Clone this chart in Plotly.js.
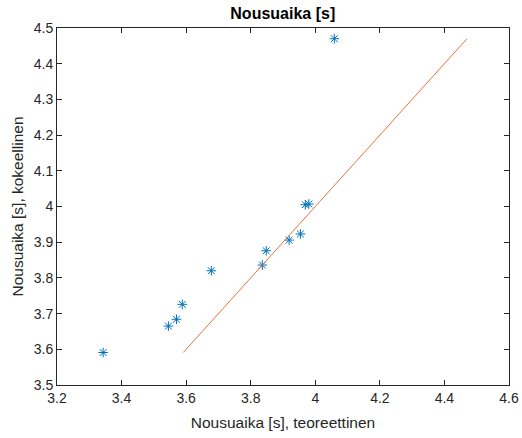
<!DOCTYPE html>
<html>
<head>
<meta charset="utf-8">
<script src="https://cdn.plot.ly/plotly-3.0.1.min.js"></script>
<style>html,body{margin:0;padding:0;background:#fff;}#chart{width:522px;height:438px;}</style>
</head>
<body>
<div id="chart"></div>
<script>
// Data
const teoreettinen = [3.343, 3.545, 3.570, 3.588, 3.678, 3.836, 3.848, 3.919, 3.954, 3.969, 3.980, 4.059];
const kokeellinen  = [3.591, 3.665, 3.684, 3.726, 3.820, 3.836, 3.876, 3.906, 3.923, 4.005, 4.007, 4.470];
const refLine = [3.591, 4.470]; // y = x reference line endpoints
const xTicks = [3.2, 3.4, 3.6, 3.8, 4.0, 4.2, 4.4, 4.6];
const xTickText = ['3.2', '3.4', '3.6', '3.8', '4', '4.2', '4.4', '4.6'];
const yTicks = [3.5, 3.6, 3.7, 3.8, 3.9, 4.0, 4.1, 4.2, 4.3, 4.4, 4.5];
const yTickText = ['3.5', '3.6', '3.7', '3.8', '3.9', '4', '4.1', '4.2', '4.3', '4.4', '4.5'];

const font = 'Liberation Sans, Arial, Helvetica, sans-serif';
const axisCol = '#262626';

const traces = [
  {
    x: teoreettinen, y: kokeellinen, type: 'scatter', mode: 'markers',
    marker: {symbol: 'asterisk-open', size: 8, color: '#0072BD', line: {color: '#0072BD', width: 1}},
    hoverinfo: 'skip'
  },
  {
    x: refLine, y: refLine, type: 'scatter', mode: 'lines',
    line: {color: '#E8743F', width: 1}, hoverinfo: 'skip'
  }
];

const axisCommon = {
  showgrid: false, zeroline: false, showline: true, mirror: 'ticks',
  linecolor: axisCol, linewidth: 1, ticks: 'inside', ticklen: 5, tickcolor: axisCol,
  tickfont: {family: font, size: 14, color: axisCol}
};

const layout = {
  width: 522, height: 438,
  margin: {l: 57, r: 13, t: 28, b: 53},
  paper_bgcolor: '#fff', plot_bgcolor: '#fff',
  showlegend: false,
  title: {text: '<b>Nousuaika [s]</b>', font: {family: font, size: 16, color: '#000'}, x: 0.5417, xanchor: 'center', y: 0.97, yanchor: 'middle'},
  xaxis: Object.assign({}, axisCommon, {
    range: [3.2, 4.6], tickvals: xTicks, ticktext: xTickText, automargin: false,
    title: {text: 'Nousuaika [s], teoreettinen', font: {family: font, size: 15.5, color: axisCol}, standoff: 12}
  }),
  yaxis: Object.assign({}, axisCommon, {
    range: [3.5, 4.5], tickvals: yTicks, ticktext: yTickText, automargin: false,
    title: {text: 'Nousuaika [s], kokeellinen', font: {family: font, size: 15.5, color: axisCol}, standoff: 6}
  })
};

Plotly.newPlot('chart', traces, layout, {displayModeBar: false, staticPlot: true});
</script>
</body>
</html>
